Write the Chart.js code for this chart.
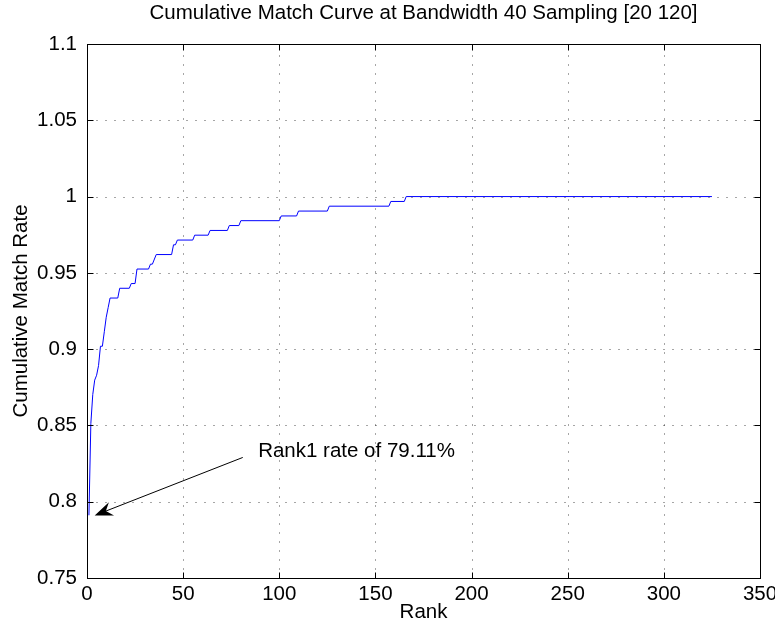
<!DOCTYPE html>
<html>
<head>
<meta charset="utf-8">
<script src="https://cdn.jsdelivr.net/npm/chart.js@4.4.0/dist/chart.umd.min.js"></script>
<style>
  html, body { margin: 0; padding: 0; background: #fff; }
  #cmcChart { display: block; }
</style>
</head>
<body>
<canvas id="cmcChart" width="775" height="625"></canvas>
<script>
// corners of the cumulative match curve (rank, rate)
const ranks = [1, 2, 3, 4, 5, 6, 7, 8, 9, 10, 11, 12, 16, 17, 22, 23, 25, 26, 32, 33, 34, 36,
    44, 45, 46, 47, 55, 56, 63, 64, 73, 74, 79, 80, 100, 101, 109, 110, 125, 126, 157, 158, 165, 166, 325];
const rates = [0.7911, 0.8513, 0.8703, 0.8797, 0.8829, 0.8892, 0.9019, 0.9019, 0.9114, 0.9209, 0.9272, 0.9335,
    0.9335, 0.9399, 0.9399, 0.9430, 0.9430, 0.9525, 0.9525, 0.9557, 0.9557, 0.9620,
    0.9620, 0.9684, 0.9684, 0.9715, 0.9715, 0.9747, 0.9747, 0.9778, 0.9778, 0.9810, 0.9810, 0.9842,
    0.9842, 0.9873, 0.9873, 0.9905, 0.9905, 0.9937, 0.9937, 0.9968, 0.9968, 1.0, 1.0];

const xTicks = [0, 50, 100, 150, 200, 250, 300, 350];
const yTicks = [0.75, 0.8, 0.85, 0.9, 0.95, 1, 1.05, 1.1];

const chartTitle = 'Cumulative Match Curve at Bandwidth 40 Sampling [20 120]';
const xLabel = 'Rank';
const yLabel = 'Cumulative Match Rate';

// text arrow pointing at the rank 1 value (data coordinates)
const noteText = 'Rank1 rate of 79.11%';
const noteAt = [89, 0.8333];
const arrowFrom = [81, 0.829];
const arrowTo = [4, 0.791];

const FONT = 'Liberation Sans, Arial, Helvetica, sans-serif';
const FONT_SIZE = 20.5;

Chart.defaults.font.family = FONT;
Chart.defaults.font.size = FONT_SIZE;
Chart.defaults.color = '#000';

// axes edges taken from the scales
function axesEdges(x, y) {
    return {
        l: Math.round(x.getPixelForValue(x.min)) + 0.5,
        r: Math.round(x.getPixelForValue(x.max)) + 0.5,
        t: Math.round(y.getPixelForValue(y.max)) + 0.5,
        b: Math.round(y.getPixelForValue(y.min)) + 0.5
    };
}

// dotted grid, drawn under the curve
const dottedGrid = {
    id: 'dottedGrid',
    beforeDatasetsDraw(chart) {
        const { ctx, scales: { x, y } } = chart;
        const { l, r, t, b } = axesEdges(x, y);
        ctx.save();
        ctx.strokeStyle = 'rgba(0,0,0,0.7)';
        ctx.lineWidth = 1;
        ctx.setLineDash([1, 8]);
        ctx.beginPath();
        xTicks.slice(1, -1).forEach(v => {
            const px = Math.round(x.getPixelForValue(v)) + 0.5;
            ctx.moveTo(px, b); ctx.lineTo(px, t);
        });
        yTicks.slice(1, -1).forEach(v => {
            const py = Math.round(y.getPixelForValue(v)) + 0.5;
            ctx.moveTo(l, py); ctx.lineTo(r, py);
        });
        ctx.stroke();
        ctx.restore();
    }
};

// box round the axes with inward tick marks, like matlab
const axesBox = {
    id: 'axesBox',
    afterDraw(chart) {
        const { ctx, scales: { x, y } } = chart;
        const { l, r, t, b } = axesEdges(x, y);
        const len = 6;
        ctx.save();
        ctx.strokeStyle = '#000';
        ctx.lineWidth = 1;
        ctx.strokeRect(l, t, r - l, b - t);
        ctx.beginPath();
        xTicks.forEach(v => {
            const px = Math.round(x.getPixelForValue(v)) + 0.5;
            ctx.moveTo(px, b); ctx.lineTo(px, b - len);
            ctx.moveTo(px, t); ctx.lineTo(px, t + len);
        });
        yTicks.forEach(v => {
            const py = Math.round(y.getPixelForValue(v)) + 0.5;
            ctx.moveTo(l, py); ctx.lineTo(l + len, py);
            ctx.moveTo(r, py); ctx.lineTo(r - len, py);
        });
        ctx.stroke();
        ctx.restore();
    }
};

const arrowNote = {
    id: 'arrowNote',
    afterDraw(chart) {
        const { ctx, scales: { x, y } } = chart;
        const x0 = x.getPixelForValue(arrowFrom[0]), y0 = y.getPixelForValue(arrowFrom[1]);
        const x1 = x.getPixelForValue(arrowTo[0]), y1 = y.getPixelForValue(arrowTo[1]);
        const dx = x0 - x1, dy = y0 - y1;
        const d = Math.hypot(dx, dy);
        const ux = dx / d, uy = dy / d;
        const nx = -uy, ny = ux;
        const headLen = 18, headW = 7, notch = 12;
        ctx.save();
        ctx.strokeStyle = '#000';
        ctx.fillStyle = '#000';
        ctx.lineWidth = 1;
        ctx.beginPath();
        ctx.moveTo(x0, y0);
        ctx.lineTo(x1 + notch * ux, y1 + notch * uy);
        ctx.stroke();
        ctx.beginPath();
        ctx.moveTo(x1, y1);
        ctx.lineTo(x1 + headLen * ux + headW * nx, y1 + headLen * uy + headW * ny);
        ctx.lineTo(x1 + notch * ux, y1 + notch * uy);
        ctx.lineTo(x1 + headLen * ux - headW * nx, y1 + headLen * uy - headW * ny);
        ctx.closePath();
        ctx.fill();
        ctx.font = FONT_SIZE + 'px ' + FONT;
        ctx.textAlign = 'left';
        ctx.textBaseline = 'middle';
        ctx.fillText(noteText, x.getPixelForValue(noteAt[0]), y.getPixelForValue(noteAt[1]));
        ctx.restore();
    }
};

const ctx = document.getElementById('cmcChart').getContext('2d');
const chart = new Chart(ctx, {
    type: 'line',
    data: {
        datasets: [{
            label: 'CMC',
            data: ranks.map((r, i) => ({ x: r, y: rates[i] })),
            borderColor: '#0000ff',
            borderWidth: 1,
            pointRadius: 0,
            fill: false,
            tension: 0
        }]
    },
    options: {
        responsive: false,
        animation: false,
        layout: { padding: { left: 0, right: 15, top: 0, bottom: 0 } },
        plugins: {
            legend: { display: false },
            tooltip: { enabled: false },
            title: {
                display: true,
                fullSize: false,
                text: chartTitle,
                font: { size: FONT_SIZE, weight: 'normal' },
                color: '#000',
                padding: { top: 1, bottom: 18.4 }
            }
        },
        scales: {
            x: {
                type: 'linear',
                min: 0,
                max: 350,
                afterBuildTicks: s => { s.ticks = xTicks.map(v => ({ value: v })); },
                afterFit: s => { s.height = 47; s.paddingLeft = 0; s.paddingRight = 0; },
                ticks: { padding: 4, maxRotation: 0, autoSkip: false },
                grid: { display: false, drawTicks: false },
                border: { display: false },
                title: { display: true, text: xLabel, padding: { top: 0, bottom: 0 } }
            },
            y: {
                min: 0.75,
                max: 1.1,
                afterBuildTicks: s => { s.ticks = yTicks.map(v => ({ value: v })); },
                afterFit: s => { s.width = 87; s.paddingTop = 0; s.paddingBottom = 0; },
                ticks: { padding: 10, autoSkip: false, callback: v => String(Math.round(v * 100) / 100) },
                grid: { display: false, drawTicks: false },
                border: { display: false },
                title: { display: true, text: yLabel, padding: { top: 9.5, bottom: 0 } }
            }
        }
    },
    plugins: [dottedGrid, axesBox, arrowNote]
});
</script>
</body>
</html>
